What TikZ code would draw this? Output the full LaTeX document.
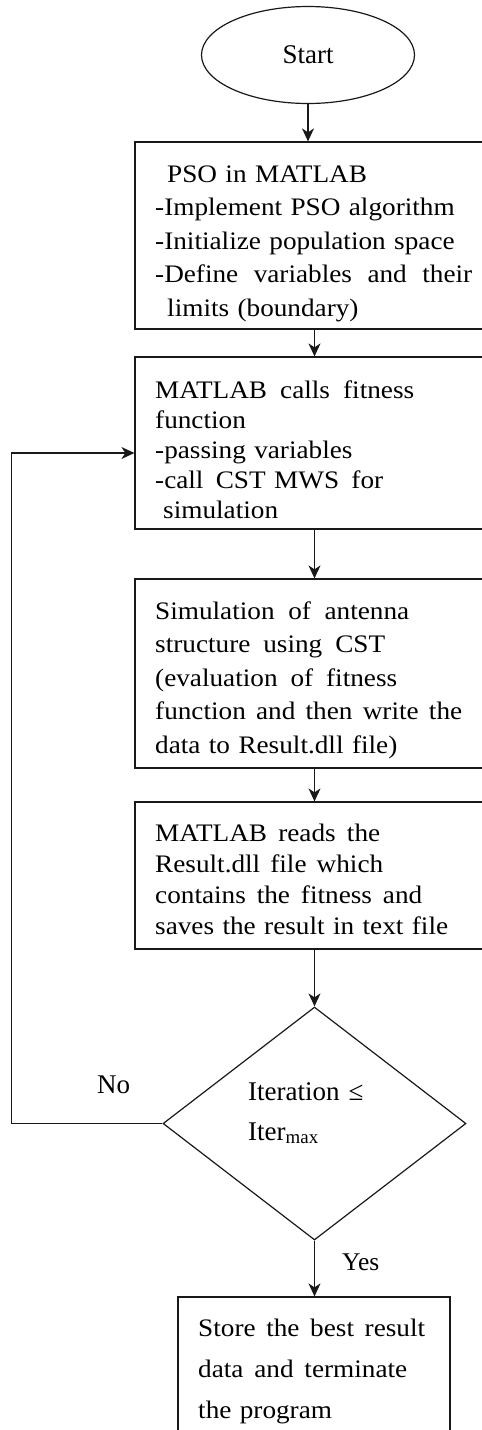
\documentclass[tikz,border=0pt]{standalone}
\usepackage{fontspec}
\setmainfont{Liberation Serif}
\newfontfamily\bxfont[FakeStretch=1.08]{Liberation Serif}
\usetikzlibrary{shapes.geometric,arrows.meta}
\newcommand{\jl}[2]{\makebox[#1][s]{#2}}
\newcommand{\gp}{\ \hfill}
\begin{document}
\begin{tikzpicture}[x=1pt,y=-1pt,
  shapeline/.style={draw=black!90, line width=1.2pt},
  flowbox/.style={shapeline, rectangle, inner sep=0pt},
  boxtext/.style={anchor=base west, inner sep=0pt, text width=340pt, align=left},
  arr/.style={draw=black!90, line width=1.25pt, -{Stealth[length=13pt,width=12pt,inset=4pt]}},
  lbl/.style={anchor=base west, inner sep=0pt, font=\fontsize{27}{32}\selectfont}
  ]
\useasboundingbox (0,0) rectangle (482,1430);
\clip (0,0) rectangle (482,1430);

% shapes
\node[shapeline, ellipse, inner sep=0pt, minimum width=213pt, minimum height=97pt,
      font=\fontsize{27}{32}\selectfont] (e) at (308,55) {Start};
\node[flowbox, minimum width=365pt, minimum height=187pt] (b1) at (317.5,235.5) {};
\node[flowbox, minimum width=365pt, minimum height=172pt] (b2) at (317.5,443) {};
\node[flowbox, minimum width=365pt, minimum height=189pt] (b3) at (317.5,673.5) {};
\node[flowbox, minimum width=365pt, minimum height=147pt] (b4) at (317.5,875.5) {};
\node[shapeline, diamond, inner sep=0pt, minimum width=303pt, minimum height=233pt] (d) at (314.5,1123.5) {};
\node[flowbox, minimum width=272pt, minimum height=163pt] (b5) at (314,1378.5) {};

% texts
\node[boxtext, font=\bxfont\fontsize{25.2}{33.6}\selectfont] (t1) at (155,182)
  {\hspace*{12pt}PSO in MATLAB\\
   -Implement PSO algorithm\\
   -Initialize population space\\
   \jl{317pt}{-Define\gp variables\gp and\gp their}\\
   \hspace*{12pt}limits (boundary)};
\node[boxtext, font=\bxfont\fontsize{25.2}{30}\selectfont] (t2) at (155,398.3)
  {\jl{259pt}{MATLAB\gp calls\gp fitness}\\
   function\\
   -passing variables\\
   \jl{228pt}{-call\gp CST MWS\gp for}\\
   \hspace*{8pt}simulation};
\node[boxtext, font=\bxfont\fontsize{25.2}{33.5}\selectfont] (t3) at (155,619)
  {\jl{254pt}{Simulation\gp of\gp antenna}\\
   \jl{230pt}{structure\gp using\gp CST}\\
   \jl{242pt}{(evaluation\gp of\gp fitness}\\
   \jl{307pt}{function\gp and\gp then\gp write\gp the}\\
   data to Result.dll file)};
\node[boxtext, font=\bxfont\fontsize{25.2}{31}\selectfont] (t4) at (155,841.7)
  {\jl{225pt}{MATLAB\gp reads\gp the}\\
   \jl{228pt}{Result.dll\gp file\gp which}\\
   \jl{267pt}{contains\gp the\gp fitness\gp and}\\
   saves the result in text file};
\node[boxtext, font=\bxfont\fontsize{25.2}{40.8}\selectfont] (t5) at (198,1336.7)
  {\jl{227pt}{Store\gp the\gp best\gp result}\\
   \jl{209pt}{data\gp and\gp terminate}\\
   the program};
\node[boxtext, font=\fontsize{27}{40}\selectfont] (t6) at (248,1100)
  {Iteration ≤\\Iter\textsubscript{max}};
\node[lbl] (no) at (97,1093) {No};
\node[lbl, font=\fontsize{25.5}{30}\selectfont] (yes) at (342,1270) {Yes};

% connectors
\draw[arr] (e.south) -- (e.south |- b1.north);
\draw[arr] (b1.south -| d.north) -- (b2.north -| d.north);
\draw[arr] (b2.south -| d.north) -- (b3.north -| d.north);
\draw[arr] (b3.south -| d.north) -- (b4.north -| d.north);
\draw[arr] (b4.south -| d.north) -- (d.north);
\draw[arr] (d.south) -- (d.south |- b5.north);
\draw[arr] (d.west) -- ++(-151,0) |- ([yshift=-10pt]b2.west);
\end{tikzpicture}
\end{document}
